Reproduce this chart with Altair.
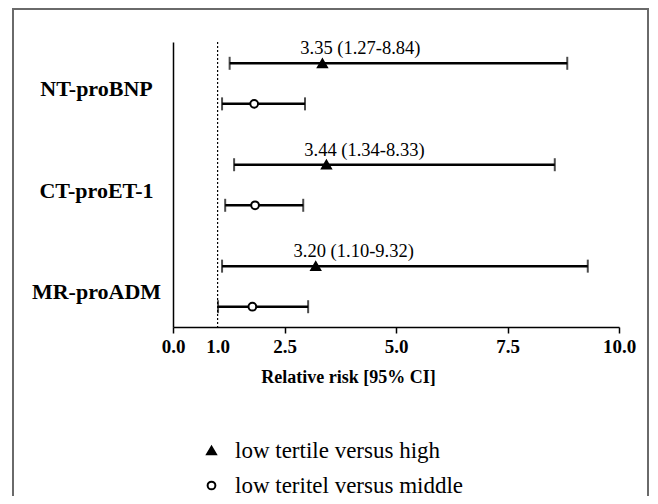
import json
import altair as alt
import pandas as pd

# ---------------- data ----------------
markers = ["NT-proBNP", "CT-proET-1", "MR-proADM"]
series = ["low tertile versus high", "low teritel versus middle"]

high_rr = [3.35, 3.44, 3.20]
high_lo = [1.27, 1.37, 1.10]
high_hi = [8.84, 8.56, 9.30]
high_text = ["3.35 (1.27-8.84)", "3.44 (1.34-8.33)", "3.20 (1.10-9.32)"]

mid_rr = [1.82, 1.84, 1.78]
mid_lo = [1.10, 1.17, 1.01]
mid_hi = [2.96, 2.92, 3.03]

x_ticks = [0, 1, 2.5, 5, 7.5, 10]

SERIF = "Liberation Serif"

rows = []
for i, m in enumerate(markers):
    rows.append(dict(marker=m, series=series[0], rr=high_rr[i], lo=high_lo[i],
                     hi=high_hi[i], label=high_text[i], ypos=i - 0.2))
    rows.append(dict(marker=m, series=series[1], rr=mid_rr[i], lo=mid_lo[i],
                     hi=mid_hi[i], label="", ypos=i + 0.2))
df = pd.DataFrame(rows)

# ---------------- scales / axes ----------------
x_axis = alt.Axis(
    values=x_ticks, format=".1f", title="Relative risk [95% CI]", grid=False,
    domainColor="black", domainWidth=1.5, tickColor="black", tickWidth=1.5,
    tickSize=6,
    tickOpacity={"condition": {"test": "datum.value === 1", "value": 0}, "value": 1},
    labelFont=SERIF, labelFontSize=19, labelFontWeight="bold", labelColor="black",
    labelPadding=4, labelFlush=False, labelOverlap=False,
    titleFont=SERIF, titleFontSize=18, titleFontWeight="bold", titleColor="black",
    titleX=175, titleY=50, titleAlign="center", titleBaseline="middle",
)
X = lambda f: alt.X(f, type="quantitative", scale=alt.Scale(domain=[0, 10], nice=False), axis=x_axis)

label_expr = json.dumps(markers) + "[datum.value]"
y_axis = alt.Axis(
    values=[0, 1, 2], labelExpr=label_expr, ticks=False, tickSize=0, grid=False,
    domainColor="black", domainWidth=1.5, title=None,
    labelFont=SERIF, labelFontSize=22, labelFontWeight="bold", labelColor="black",
    labelAlign="center", labelBaseline="middle", labelPadding=77, labelOffset=5,
    labelLimit=0,
)
Y = alt.Y("ypos:Q", scale=alt.Scale(domain=[-0.41, 2.40], reverse=True, nice=False, zero=False), axis=y_axis)

legend = alt.Legend(
    title=None, orient="none", legendX=27, legendY=397, padding=0,
    labelFont=SERIF, labelFontSize=23, labelColor="black", labelLimit=0,
    symbolStrokeWidth=2, symbolStrokeColor="black",
    rowPadding=11, labelOffset=12,
)

base = alt.Chart(df)

frame = alt.Chart(alt.Data(values=[{}])).mark_rect(
    fillOpacity=0, stroke="#6a6a6a", strokeWidth=2
).encode(x=alt.value(-160), x2=alt.value(475), y=alt.value(-33), y2=alt.value(490))

refline = alt.Chart(alt.Data(values=[{}])).mark_rule(
    strokeDash=[2, 2], strokeWidth=1.2, color="black"
).encode(x=alt.datum(1))

whiskers = base.mark_rule(strokeWidth=2.5, color="black").encode(
    x=X("lo"), x2="hi:Q", y=Y
)

caps = base.transform_fold(["lo", "hi"], as_=["end", "val"]).mark_tick(
    orient="vertical", size=13, thickness=2, color="black"
).encode(x=X("val"), y=Y)

points = base.mark_point(opacity=1, strokeWidth=2).encode(
    x=X("rr"), y=Y,
    shape=alt.Shape("series:N", scale=alt.Scale(domain=series, range=["triangle-up", "circle"]), legend=legend),
    fill=alt.Fill("series:N", scale=alt.Scale(domain=series, range=["black", "white"]), legend=legend),
    stroke=alt.Stroke("series:N", scale=alt.Scale(domain=series, range=["black", "black"]), legend=legend),
    size=alt.Size("series:N", scale=alt.Scale(domain=series, range=[80, 60]), legend=legend),
)

text = base.transform_filter("datum.label != ''").mark_text(
    font=SERIF, fontSize=18.5, dx=38, dy=-15, baseline="middle", color="black"
).encode(x=X("rr"), y=Y, text="label:N")

chart = alt.layer(frame, refline, whiskers, caps, points, text).properties(
    width=446, height=285,
    padding={"left": 165, "top": 34, "right": 31, "bottom": 169},
    autosize=alt.AutoSizeParams(type="none"),
).configure_view(stroke=None)

chart.save("out.html", embed_options={"renderer": "svg", "actions": False})
